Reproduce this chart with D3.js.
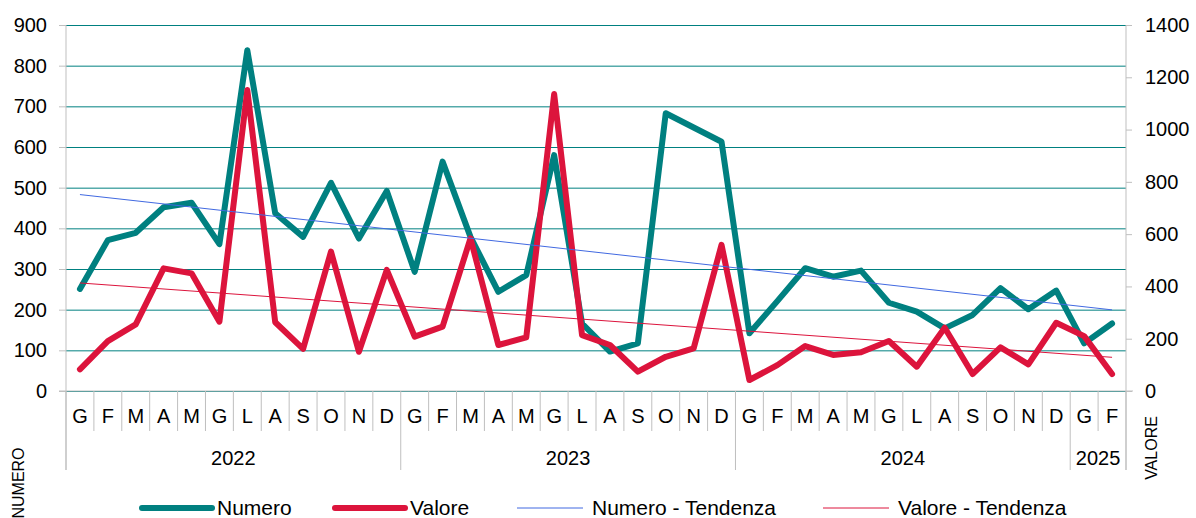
<!DOCTYPE html>
<html>
<head>
<meta charset="utf-8">
<script src="https://cdn.jsdelivr.net/npm/d3@7"></script>
<style>
  body { margin: 0; background: #fff; }
  svg { font-family: "Liberation Sans", Arial, sans-serif; }
</style>
</head>
<body>
<svg id="chart" width="1196" height="518"></svg>
<script>
// categories
const mesi = ["G", "F", "M", "A", "M", "G", "L", "A", "S", "O", "N", "D"];
const anni = ["2022", "2023", "2024", "2025"];
const mesiPerAnno = [12, 12, 12, 2];

// series (Numero on left axis, Valore on right axis)
const numero = [251, 371, 389, 452, 463, 361, 838, 437, 379, 512, 375, 492,
                293, 564, 379, 244, 285, 580, 166, 97, 117, 683, 648, 613,
                142, 221, 302, 281, 296, 217, 195, 154, 187, 253, 201, 247,
                117, 166];
const valore = [83, 191, 255, 469, 450, 265, 1151, 263, 161, 533, 150, 463,
                208, 246, 584, 176, 205, 1136, 214, 176, 74, 131, 163, 559,
                42, 99, 172, 138, 148, 191, 93, 242, 65, 167, 102, 261,
                210, 65];

const ticksSx = [0, 100, 200, 300, 400, 500, 600, 700, 800, 900];
const ticksDx = [0, 200, 400, 600, 800, 1000, 1200, 1400];

const teal = "#008080", red = "#dc143c", blue = "#4169e1", grey = "#bfbfbf";

let svg = d3.select("#chart");
let mLeft = 66, mRight = 1126, mTop = 25, mBottom = 391;

// one entry per month
let periodi = [];
anni.forEach((a, k) => {
    for (let m = 0; m < mesiPerAnno[k]; m++) periodi.push({ anno: a, mese: mesi[m], id: a + "-" + m });
});

let x = d3.scaleBand().domain(periodi.map(d => d.id)).range([mLeft, mRight]).padding(0);
let cx = i => x(periodi[i].id) + x.bandwidth() / 2;
let ySx = d3.scaleLinear().domain([0, 900]).range([mBottom, mTop]);
let yDx = d3.scaleLinear().domain([0, 1400]).range([mBottom, mTop]);

// gridlines
svg.append("g")
    .attr("transform", `translate(${mLeft},0)`)
    .call(d3.axisLeft(ySx).tickValues(ticksSx).tickSize(-(mRight - mLeft)).tickFormat(""))
    .call(g => g.select(".domain").remove())
    .call(g => g.selectAll("line").attr("stroke", teal).attr("stroke-width", 1));

// left axis
svg.append("g")
    .attr("transform", `translate(${mLeft},0)`)
    .call(d3.axisLeft(ySx).tickValues(ticksSx).tickSize(7).tickSizeOuter(0).tickPadding(12).tickFormat(d3.format("d")))
    .call(g => g.select(".domain").attr("stroke", grey).attr("d", `M0,${mTop}V470`))
    .call(g => g.selectAll("line").attr("stroke", grey))
    .call(g => g.selectAll("text").attr("font-size", 20).attr("fill", "#000").attr("font-family", null));

// right axis
svg.append("g")
    .attr("transform", `translate(${mRight},0)`)
    .call(d3.axisRight(yDx).tickValues(ticksDx).tickSize(6).tickSizeOuter(0).tickPadding(13).tickFormat(d3.format("d")))
    .call(g => g.select(".domain").attr("stroke", grey).attr("d", `M0,${mTop}V470`))
    .call(g => g.selectAll("line").attr("stroke", grey))
    .call(g => g.selectAll("text").attr("font-size", 20).attr("fill", "#000").attr("font-family", null));

// category axis
svg.append("line").attr("x1", mLeft - 7).attr("x2", mRight + 7)
    .attr("y1", mBottom).attr("y2", mBottom).attr("stroke", grey);

let confini = d3.range(periodi.length + 1);
let inizioAnno = [0].concat(Array.from(d3.cumsum(mesiPerAnno)));
svg.append("g").selectAll("line")
    .data(confini)
    .join("line")
    .attr("x1", i => mLeft + i * x.step())
    .attr("x2", i => mLeft + i * x.step())
    .attr("y1", mBottom)
    .attr("y2", i => inizioAnno.includes(i) ? 470 : 431)
    .attr("stroke", grey);

svg.append("g").selectAll("text")
    .data(periodi)
    .join("text")
    .attr("x", (d, i) => cx(i))
    .attr("y", 423)
    .attr("text-anchor", "middle")
    .attr("font-size", 20)
    .text(d => d.mese);

svg.append("g").selectAll("text")
    .data(anni)
    .join("text")
    .attr("x", (d, k) => mLeft + (inizioAnno[k] + inizioAnno[k + 1]) / 2 * x.step())
    .attr("y", 465)
    .attr("text-anchor", "middle")
    .attr("font-size", 20)
    .text(d => d);

// axis titles
svg.append("text")
    .attr("transform", "translate(24,483) rotate(-90)")
    .attr("text-anchor", "middle")
    .attr("font-size", 16)
    .text("NUMERO");
svg.append("text")
    .attr("transform", "translate(1157,448) rotate(-90)")
    .attr("text-anchor", "middle")
    .attr("font-size", 16)
    .text("VALORE");

// linear trend (least squares)
function tendenza(values) {
    let n = values.length;
    let mx = d3.mean(values, (v, i) => i);
    let my = d3.mean(values);
    let sxy = d3.sum(values, (v, i) => (i - mx) * (v - my));
    let sxx = d3.sum(values, (v, i) => (i - mx) * (i - mx));
    let b = sxy / sxx;
    let a = my - b * mx;
    return [0, n - 1].map(i => ({ i: i, v: a + b * i }));
}

let lineaSx = d3.line().x((d, i) => cx(i)).y(d => ySx(d));
let lineaDx = d3.line().x((d, i) => cx(i)).y(d => yDx(d));
let trendSx = d3.line().x(d => cx(d.i)).y(d => ySx(d.v));
let trendDx = d3.line().x(d => cx(d.i)).y(d => yDx(d.v));

svg.append("path").datum(numero)
    .attr("d", lineaSx).attr("fill", "none").attr("stroke", teal)
    .attr("stroke-width", 6).attr("stroke-linejoin", "round").attr("stroke-linecap", "round");
svg.append("path").datum(valore)
    .attr("d", lineaDx).attr("fill", "none").attr("stroke", red)
    .attr("stroke-width", 6).attr("stroke-linejoin", "round").attr("stroke-linecap", "round");
svg.append("path").datum(tendenza(numero))
    .attr("d", trendSx).attr("fill", "none").attr("stroke", blue).attr("stroke-width", 1);
svg.append("path").datum(tendenza(valore))
    .attr("d", trendDx).attr("fill", "none").attr("stroke", red).attr("stroke-width", 1);

// legend
let legenda = [
    { nome: "Numero", colore: teal, spessore: 6, x: 142 },
    { nome: "Valore", colore: red, spessore: 6, x: 335 },
    { nome: "Numero - Tendenza", colore: blue, spessore: 1, x: 517 },
    { nome: "Valore - Tendenza", colore: red, spessore: 1, x: 823 }
];
let voce = svg.append("g").selectAll("g")
    .data(legenda)
    .join("g")
    .attr("transform", d => `translate(${d.x},508)`);
voce.append("line")
    .attr("x1", 0).attr("x2", d => d.spessore > 1 ? 70 : 66)
    .attr("stroke", d => d.colore).attr("stroke-width", d => d.spessore)
    .attr("stroke-linecap", d => d.spessore > 1 ? "round" : "butt");
voce.append("text")
    .attr("x", 75).attr("y", 7)
    .attr("font-size", 21)
    .text(d => d.nome);
</script>
</body>
</html>
